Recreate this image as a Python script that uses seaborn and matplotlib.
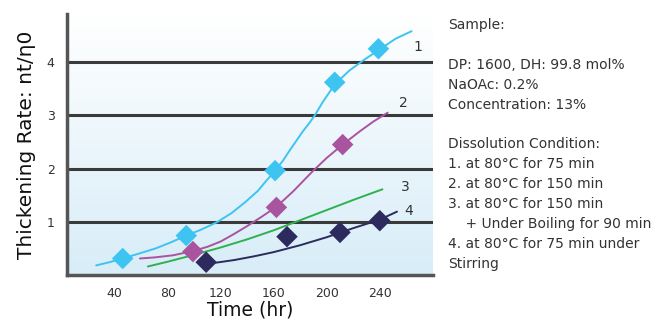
import numpy as np
import pandas as pd
import matplotlib
matplotlib.use("Agg")
import matplotlib.pyplot as plt
import seaborn as sns
from matplotlib.colors import LinearSegmentedColormap

# ---------------- data ----------------
series_names = ["1", "2", "3", "4"]
colors = ["#3ec4f0", "#a9549f", "#2fb14e", "#2d2b5e"]

# measured points (diamonds)
pts1_x = [46, 94, 161, 206, 239]
pts1_y = [0.31, 0.74, 1.96, 3.62, 4.25]
pts2_x = [99, 162, 212]
pts2_y = [0.44, 1.27, 2.45]
pts4_x = [109, 170, 210, 240]
pts4_y = [0.24, 0.72, 0.80, 1.02]

# fitted curves
crv1_x = [26, 36, 46, 58, 71, 82, 94, 105, 117, 128, 139, 148, 154, 161, 167, 172, 177, 182, 187, 191, 197, 206, 217, 228, 240, 252, 264]
crv1_y = [0.18, 0.24, 0.31, 0.40, 0.50, 0.61, 0.74, 0.85, 0.99, 1.16, 1.38, 1.58, 1.76, 1.96, 2.15, 2.34, 2.52, 2.70, 2.86, 3.00, 3.25, 3.58, 3.84, 4.04, 4.24, 4.44, 4.58]
crv2_x = [59, 70, 84, 99, 110, 120, 130, 140, 150, 162, 175, 189, 200, 212, 225, 235, 246]
crv2_y = [0.31, 0.33, 0.37, 0.45, 0.53, 0.63, 0.77, 0.92, 1.08, 1.28, 1.58, 1.94, 2.20, 2.45, 2.70, 2.88, 3.05]
crv3_x = [65, 80, 97, 119, 140, 160, 180, 200, 220, 242]
crv3_y = [0.16, 0.25, 0.36, 0.51, 0.67, 0.84, 1.03, 1.22, 1.41, 1.61]
crv4_x = [116, 130, 145, 160, 180, 200, 220, 240, 253]
crv4_y = [0.23, 0.28, 0.35, 0.43, 0.56, 0.71, 0.88, 1.04, 1.19]

x_ticks = [40, 80, 120, 160, 200, 240]
y_ticks = [1, 2, 3, 4]

info_lines = [
    "Sample:",
    "",
    "DP: 1600, DH: 99.8 mol%",
    "NaOAc: 0.2%",
    "Concentration: 13%",
    "",
    "Dissolution Condition:",
    "1. at 80°C for 75 min",
    "2. at 80°C for 150 min",
    "3. at 80°C for 150 min",
    "    + Under Boiling for 90 min",
    "4. at 80°C for 75 min under",
    "Stirring",
]

# ---------------- build tables ----------------
curves = pd.concat([
    pd.DataFrame({"t": crv1_x, "v": crv1_y, "s": "1"}),
    pd.DataFrame({"t": crv2_x, "v": crv2_y, "s": "2"}),
    pd.DataFrame({"t": crv3_x, "v": crv3_y, "s": "3"}),
    pd.DataFrame({"t": crv4_x, "v": crv4_y, "s": "4"}),
], ignore_index=True)
points = pd.concat([
    pd.DataFrame({"t": pts1_x, "v": pts1_y, "s": "1"}),
    pd.DataFrame({"t": pts2_x, "v": pts2_y, "s": "2"}),
    pd.DataFrame({"t": pts4_x, "v": pts4_y, "s": "4"}),
], ignore_index=True)
palette = dict(zip(series_names, colors))

sns.set_style("white")
plt.rcParams["font.family"] = ["DejaVu Sans"]

fig = plt.figure(figsize=(6.65, 3.22), dpi=100)
ax = fig.add_axes([0.1008, 0.146, 0.550, 0.810])

xlim = (4, 280)
ylim = (0, 4.9)

# gradient background
cmap = LinearSegmentedColormap.from_list("bg", ["#ffffff", "#d8edf8"])
grad = np.linspace(0, 1, 256).reshape(-1, 1)
ax.imshow(grad, aspect="auto", cmap=cmap, extent=[0, 1, 0, 1], origin="upper",
          transform=ax.transAxes, zorder=0)

for yv in y_ticks:
    ax.axhline(yv, color="#3a3a3a", lw=2.2, zorder=1)

sns.lineplot(data=curves, x="t", y="v", hue="s", palette=palette, ax=ax,
             legend=False, lw=1.4, sort=False, estimator=None, zorder=3)
sns.scatterplot(data=points, x="t", y="v", hue="s", palette=palette, ax=ax,
                legend=False, marker="D", s=120, linewidth=0, zorder=4)

label_pos = {"1": (269, 4.28), "2": (258, 3.23), "3": (259, 1.65), "4": (262, 1.20)}
for k, (lx, ly) in label_pos.items():
    ax.text(lx, ly, k, fontsize=10, color="#333333", ha="center", va="center")

ax.set_xlim(*xlim)
ax.set_ylim(*ylim)
ax.set_xticks(x_ticks)
ax.set_yticks(y_ticks)
ax.tick_params(axis="x", direction="in", length=7, width=1.8, color="#444444",
               labelsize=9, labelcolor="#333333", pad=9)
ax.tick_params(axis="y", length=0, labelsize=9, labelcolor="#333333", pad=9)

for side in ["top", "right"]:
    ax.spines[side].set_visible(False)
for side in ["left", "bottom"]:
    ax.spines[side].set_color("#555555")
    ax.spines[side].set_linewidth(2.5)
    ax.spines[side].set_zorder(5)

ax.set_xlabel("Time (hr)", fontsize=13.5, color="#111111", labelpad=0)
ax.set_ylabel("Thickening Rate: nt/η0", fontsize=14.5, color="#111111", labelpad=8)

y0 = 1 - 25 / 322
for i, line in enumerate(info_lines):
    fig.text(448 / 665, y0 - i * (19.9 / 322), line, fontsize=10, color="#333333",
             ha="left", va="center")

fig.savefig("out.png", dpi=100)
